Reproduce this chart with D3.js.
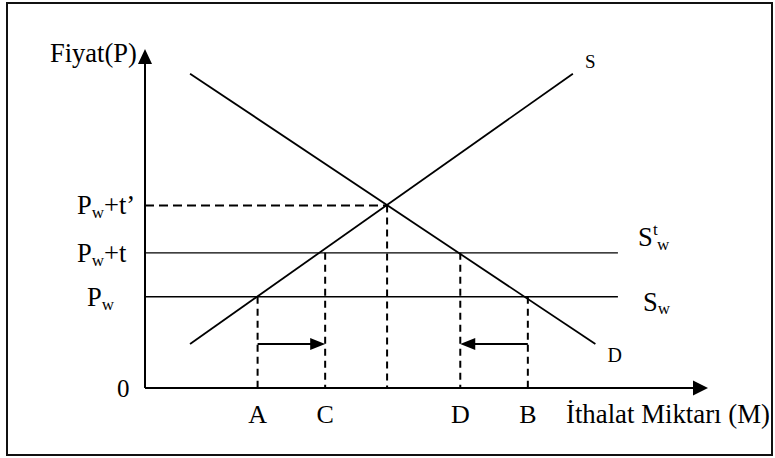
<!DOCTYPE html>
<html>
<head>
<meta charset="utf-8">
<script src="https://cdn.jsdelivr.net/npm/d3@7"></script>
<style>
  body { margin: 0; background: #fff; }
  text { font-family: "Liberation Serif", "Times New Roman", serif; fill: #000; }
</style>
</head>
<body>
<div id="chart"></div>
<script>

// price levels (y) : world price, with tariff t, with prohibitive tariff t'
var priceNames = ['Pw', 'Pw+t', 'Pw+t’'];
var priceValues = [27, 40, 54];

// quantities on the import axis
var qtyNames = ['A', 'C', '', 'D', 'B'];
var qtyValues = [20, 32, 43, 56, 68];
// which price each dashed drop line starts from
var qtyPrice = [27, 40, 54, 40, 27];

// import supply S and import demand D (two end points each)
var supplyLine = [[8, 13], [76, 93]];
var demandLine = [[8, 93], [80, 13]];

// horizontal world supply lines end here
var hLineEnd = 84;
// level of the two shift arrows
var arrowLevel = 13;

var W = 775, H = 458;

var svg = d3.select('#chart').append('svg')
  .attr('width', W).attr('height', H);

// outer frame
svg.append('rect')
  .attr('x', 7).attr('y', 3)
  .attr('width', 765).attr('height', 452)
  .attr('fill', 'none').attr('stroke', '#111').attr('stroke-width', 2);

var x = d3.scaleLinear().domain([0, 100]).range([145, 708]);
var y = d3.scaleLinear().domain([0, 100]).range([388, 50]);

function triangle(tipX, tipY, dir, len, half) {
  // dir: 'up','right','left'
  var pts;
  if (dir == 'up') pts = [[tipX, tipY], [tipX - half, tipY + len], [tipX + half, tipY + len]];
  else if (dir == 'right') pts = [[tipX, tipY], [tipX - len, tipY - half], [tipX - len, tipY + half]];
  else pts = [[tipX, tipY], [tipX + len, tipY - half], [tipX + len, tipY + half]];
  svg.append('path')
    .attr('d', 'M' + pts.join('L') + 'Z')
    .attr('fill', '#000');
}

// axes
svg.append('line')
  .attr('x1', x(0)).attr('y1', y(0))
  .attr('x2', x(0)).attr('y2', y(100) + 8)
  .attr('stroke', '#000').attr('stroke-width', 2);
triangle(x(0), y(100) - 1, 'up', 15, 7);

svg.append('line')
  .attr('x1', x(0)).attr('y1', y(0))
  .attr('x2', x(100) - 8).attr('y2', y(0))
  .attr('stroke', '#000').attr('stroke-width', 2);
triangle(x(100), y(0), 'right', 15, 7.5);

// horizontal price lines
svg.selectAll('.hline')
  .data(priceValues)
  .enter().append('line')
  .attr('class', 'hline')
  .attr('x1', x(0))
  .attr('x2', function(d, i) { return i == 2 ? x(qtyValues[2]) : x(hLineEnd); })
  .attr('y1', function(d) { return y(d); })
  .attr('y2', function(d) { return y(d); })
  .attr('stroke', '#000')
  .attr('stroke-width', function(d, i) { return i == 2 ? 2 : 1.3; })
  .attr('stroke-dasharray', function(d, i) { return i == 2 ? '9,5' : null; });

// dashed drop lines
svg.selectAll('.vline')
  .data(qtyValues)
  .enter().append('line')
  .attr('class', 'vline')
  .attr('x1', function(d) { return x(d); })
  .attr('x2', function(d) { return x(d); })
  .attr('y1', function(d, i) { return y(qtyPrice[i]); })
  .attr('y2', y(0))
  .attr('stroke', '#000').attr('stroke-width', 2)
  .attr('stroke-dasharray', '7,5');

// supply and demand
var lineGen = d3.line()
  .x(function(d) { return x(d[0]); })
  .y(function(d) { return y(d[1]); });

svg.append('path').attr('d', lineGen(supplyLine))
  .attr('fill', 'none').attr('stroke', '#000').attr('stroke-width', 1.8);
svg.append('path').attr('d', lineGen(demandLine))
  .attr('fill', 'none').attr('stroke', '#000').attr('stroke-width', 1.8);

// shift arrows A -> C and B -> D
svg.append('line')
  .attr('x1', x(qtyValues[0])).attr('x2', x(qtyValues[1]) - 12)
  .attr('y1', y(arrowLevel)).attr('y2', y(arrowLevel))
  .attr('stroke', '#000').attr('stroke-width', 2);
triangle(x(qtyValues[1]), y(arrowLevel), 'right', 15, 6);

svg.append('line')
  .attr('x1', x(qtyValues[4])).attr('x2', x(qtyValues[3]) + 12)
  .attr('y1', y(arrowLevel)).attr('y2', y(arrowLevel))
  .attr('stroke', '#000').attr('stroke-width', 2);
triangle(x(qtyValues[3]), y(arrowLevel), 'left', 15, 6);

// ---- text ----
svg.append('text').attr('x', 50).attr('y', 62)
  .style('font-size', '26.5px').text('Fiyat(P)');

svg.append('text').attr('x', 117).attr('y', 397)
  .style('font-size', '25px').text('0');

// price labels on the y axis, P with subscript w
var priceLabelX = [87, 77, 77];
priceValues.forEach(function(p, i) {
  var t = svg.append('text')
    .attr('x', priceLabelX[i]).attr('y', y(p) + 9)
    .style('font-size', '26.5px');
  t.append('tspan').text('P');
  t.append('tspan').attr('dy', 4).style('font-size', '17px').text('w');
  if (priceNames[i].length > 2) {
    t.append('tspan').attr('dy', -4).text(priceNames[i].slice(2));
  }
});

// quantity labels
svg.selectAll('.qlab')
  .data(qtyValues)
  .enter().append('text')
  .attr('class', 'qlab')
  .attr('x', function(d) { return x(d); })
  .attr('y', 423)
  .attr('text-anchor', 'middle')
  .style('font-size', '26px')
  .text(function(d, i) { return qtyNames[i]; });

svg.append('text').attr('x', 566).attr('y', 423)
  .style('font-size', '26.8px').text('İthalat Miktarı (M)');

// curve labels
svg.append('text').attr('x', x(supplyLine[1][0]) + 12).attr('y', y(supplyLine[1][1]) - 6)
  .style('font-size', '19px').text('S');
svg.append('text').attr('x', x(demandLine[1][0]) + 12).attr('y', y(demandLine[1][1]) + 18)
  .style('font-size', '20px').text('D');

// S^t_w
var st = svg.append('text').attr('x', 638).attr('y', y(priceValues[1]) - 7)
  .style('font-size', '26.5px');
st.append('tspan').text('S');
st.append('tspan').attr('x', 653).attr('dy', -11).style('font-size', '17px').text('t');
st.append('tspan').attr('x', 657).attr('dy', 15).style('font-size', '17px').text('w');

// S_w
var sw = svg.append('text').attr('x', 643).attr('y', y(priceValues[0]) + 14)
  .style('font-size', '26.5px');
sw.append('tspan').text('S');
sw.append('tspan').attr('dy', 3).style('font-size', '17px').text('w');

</script>
</body>
</html>
